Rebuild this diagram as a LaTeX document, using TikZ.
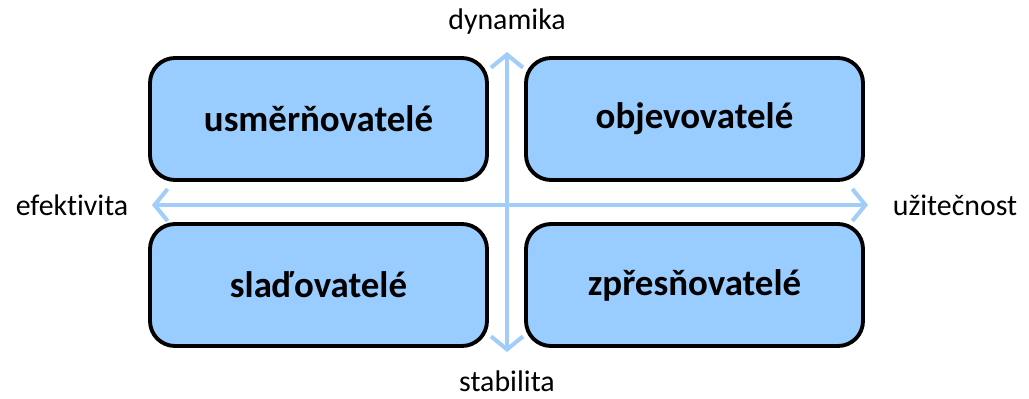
\documentclass[tikz,border=0pt]{standalone}
\usepackage{fontspec}
\setmainfont{Carlito}[Ligatures=NoCommon]
\usetikzlibrary{arrows.meta}
\definecolor{quadfill}{RGB}{153,204,255}
\definecolor{axisblue}{RGB}{160,205,250}
\begin{document}
\begin{tikzpicture}[
  quad/.style={draw=black,line width=2.2pt,fill=quadfill,rounded corners=0.5cm,
    minimum width=6.74cm,minimum height=2.44cm,font=\fontsize{21}{24}\selectfont\bfseries},
  axis/.style={axisblue,line width=2.3pt,{Straight Barb[length=2.6mm,width=6.4mm]}-{Straight Barb[length=2.6mm,width=6.4mm]}},
  pole/.style={inner sep=1pt,font=\fontsize{17}{20}\selectfont}]
  \useasboundingbox (0,0) rectangle (20.58,7.96);
  % four quadrants
  \node[quad] (ul) at (6.37,5.58) {usměrňovatelé};
  \node[quad] (ur) at (13.89,5.58) {objevovatelé};
  \node[quad] (ll) at (6.37,2.26) {slaďovatelé};
  \node[quad] (lr) at (13.89,2.26) {zpřesňovatelé};
  % axis ends
  \coordinate (top) at (10.14,6.92);
  \coordinate (bot) at (10.14,0.92);
  \coordinate (west) at (3.04,3.86);
  \coordinate (east) at (17.36,3.86);
  \draw[axis] (west) -- (east);
  \draw[axis] (bot) -- (top);
  % pole labels
  \node[pole] (dyn) at (10.14,7.52) {dynamika};
  \node[pole] (stab) at (10.14,0.34) {stabilita};
  \node[pole] (eff) at (1.44,3.86) {efektivita};
  \node[pole] (use) at (19.1,3.86) {užitečnost};
\end{tikzpicture}
\end{document}
